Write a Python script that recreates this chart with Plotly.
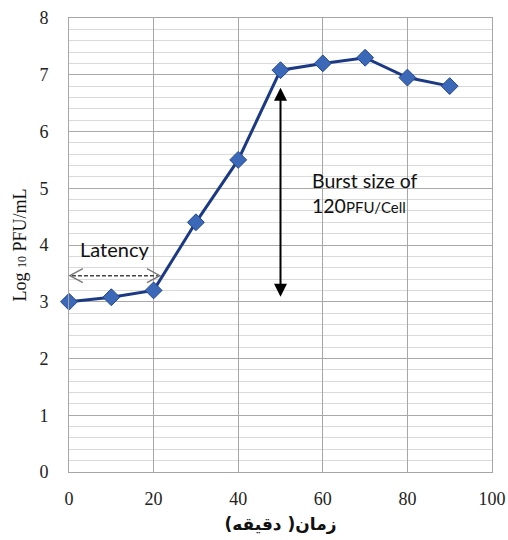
import plotly.graph_objects as go

# One-step growth curve
time_min = [0, 10, 20, 30, 40, 50, 60, 70, 80, 90]
log_pfu = [3.0, 3.08, 3.2, 4.4, 5.5, 7.08, 7.2, 7.3, 6.95, 6.8]

x_ticks = [0, 20, 40, 60, 80, 100]
y_ticks = [0, 1, 2, 3, 4, 5, 6, 7, 8]

# Annotation anchors
latency_start, latency_end, latency_y = 0.2, 21.5, 3.46
burst_x, burst_top, burst_bottom = 50, 6.77, 3.06

fig = go.Figure()

fig.add_trace(go.Scatter(
    x=time_min, y=log_pfu, mode="lines+markers",
    line=dict(color="#1c3a84", width=3),
    marker=dict(symbol="diamond", size=13, color="#3c68b8",
                line=dict(color="#24468f", width=1)),
    showlegend=False, cliponaxis=False,
))

serif = "Liberation Serif, Times New Roman, serif"
sans = "Lato, Open Sans, sans-serif"

fig.update_layout(
    width=508, height=540,
    margin=dict(l=69, r=16, t=18, b=68, autoexpand=False),
    paper_bgcolor="white", plot_bgcolor="white",
    xaxis=dict(
        range=[0, 100], tickvals=x_ticks, ticks="", automargin=False,
        showgrid=True, gridcolor="#a6a6a6", gridwidth=1,
        showline=True, linecolor="#a6a6a6", mirror=True, zeroline=False,
        tickfont=dict(family=serif, size=18, color="#222"),
        ticklabelstandoff=10,
        title=dict(text="<b>زمان( دقیقه)</b>",
                   font=dict(family="DejaVu Sans, Noto Sans, sans-serif", size=17, color="#111"),
                   standoff=10),
    ),
    yaxis=dict(
        range=[0, 8], tickvals=y_ticks, ticks="", automargin=False,
        showgrid=True, gridcolor="#a9a9a9", gridwidth=1,
        minor=dict(dtick=0.2, showgrid=True, gridcolor="#dadada", gridwidth=1),
        showline=True, linecolor="#a6a6a6", mirror=True, zeroline=False,
        tickfont=dict(family=serif, size=18, color="#222"),
        ticklabelstandoff=16,
        title=dict(text="Log <span style='font-size:12px'>10</span> PFU/mL",
                   font=dict(family=serif, size=18, color="#111"),
                   standoff=8),
    ),
)

# Latency: dashed double arrow with open heads
fig.add_shape(type="line", x0=latency_start + 0.5, x1=latency_end - 0.5,
              y0=latency_y, y1=latency_y,
              line=dict(color="#444", width=1.5, dash="4px,2px"))
fig.add_shape(type="path", xsizemode="pixel", ysizemode="pixel",
              xanchor=latency_start, yanchor=latency_y,
              path="M 13 -7 L 0 0 L 13 7",
              line=dict(color="#777", width=1.3))
fig.add_shape(type="path", xsizemode="pixel", ysizemode="pixel",
              xanchor=latency_end, yanchor=latency_y,
              path="M -13 -7 L 0 0 L -13 7",
              line=dict(color="#777", width=1.3))
fig.add_annotation(x=(latency_start + latency_end) / 2, y=3.93, text="Latency",
                   showarrow=False, font=dict(family=sans, size=20, color="#111"))

# Burst size: solid double arrow
fig.add_annotation(x=burst_x, y=burst_top, ax=burst_x, ay=burst_bottom,
                   xref="x", yref="y", axref="x", ayref="y",
                   text="", showarrow=True, arrowhead=2, startarrowhead=2,
                   arrowside="end+start", arrowsize=1.3, startarrowsize=1.3,
                   arrowwidth=2, arrowcolor="#000")
fig.add_annotation(x=57, y=5.14, text="Burst size of", xanchor="left",
                   showarrow=False, font=dict(family=sans, size=19.5, color="#111"))
fig.add_annotation(x=57, y=4.7, xanchor="left",
                   text="120<span style='font-size:15px'>PFU/Cell</span>",
                   showarrow=False, font=dict(family=sans, size=19.5, color="#111"))

fig.write_html("out.html")
